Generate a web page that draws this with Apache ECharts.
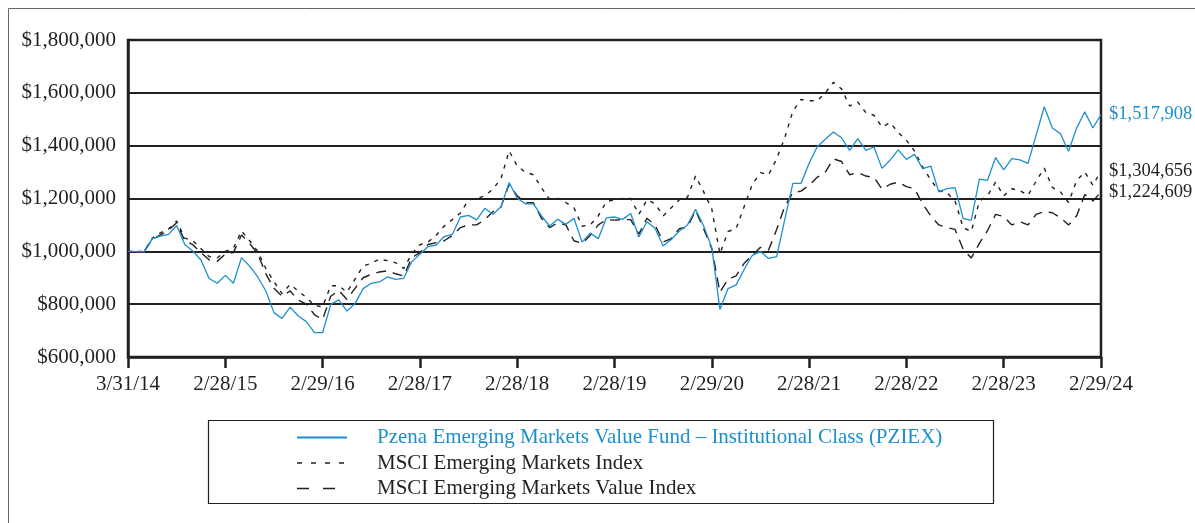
<!DOCTYPE html>
<html>
<head>
<meta charset="utf-8">
<script src="https://cdn.jsdelivr.net/npm/echarts@6/dist/echarts.min.js"></script>
<style>
  html, body { margin: 0; padding: 0; background: #fff; }
  #main { width: 1195px; height: 523px; }
</style>
</head>
<body>
<div id="main"></div>
<script>
// growth of $1,000,000, monthly points, ticks every 12 points
var tickLabels = ['3/31/14', '2/28/15', '2/29/16', '2/28/17', '2/28/18', '2/28/19', '2/29/20', '2/28/21', '2/28/22', '2/28/23', '2/29/24'];

var fundName = 'Pzena Emerging Markets Value Fund \u2013 Institutional Class (PZIEX)';
var emName = 'MSCI Emerging Markets Index';
var valName = 'MSCI Emerging Markets Value Index';

var fundValues = [
    1000000, 999000, 998000, 1048000, 1058000, 1064000, 1098000, 1026000, 1001000, 967000,
    897000, 879000, 909000, 879000, 976000, 944000, 903000, 850000, 768000, 746000,
    789000, 755000, 734000, 692000, 692000, 799000, 816000, 774000, 802000, 859000,
    879000, 884000, 903000, 894000, 898000, 961000, 989000, 1018000, 1024000, 1056000,
    1064000, 1130000, 1136000, 1119000, 1163000, 1140000, 1169000, 1260000, 1201000, 1180000,
    1180000, 1134000, 1096000, 1121000, 1102000, 1125000, 1035000, 1069000, 1048000, 1127000,
    1130000, 1121000, 1143000, 1054000, 1112000, 1087000, 1020000, 1045000, 1077000, 1100000,
    1159000, 1096000, 1014000, 780000, 859000, 873000, 932000, 985000, 999000, 973000,
    980000, 1120000, 1257000, 1257000, 1333000, 1396000, 1424000, 1452000, 1430000, 1382000,
    1427000, 1382000, 1395000, 1314000, 1346000, 1384000, 1348000, 1367000, 1313000, 1323000,
    1225000, 1237000, 1241000, 1125000, 1117000, 1273000, 1269000, 1355000, 1308000, 1351000,
    1346000, 1333000, 1440000, 1547000, 1467000, 1445000, 1379000, 1467000, 1528000, 1467000,
    1517908
];

var emValues = [
    1000000, 999000, 1000000, 1050000, 1070000, 1085000, 1115000, 1050000, 1040000, 1010000,
    980000, 975000, 1000000, 1012000, 1077000, 1040000, 1000000, 935000, 885000, 840000,
    875000, 850000, 825000, 795000, 790000, 870000, 870000, 845000, 895000, 944000,
    955000, 970000, 965000, 957000, 935000, 990000, 1025000, 1035000, 1060000, 1096000,
    1120000, 1145000, 1195000, 1200000, 1210000, 1235000, 1275000, 1380000, 1323000, 1300000,
    1290000, 1240000, 1197000, 1200000, 1185000, 1165000, 1095000, 1100000, 1134000, 1188000,
    1195000, 1200000, 1200000, 1140000, 1195000, 1180000, 1134000, 1165000, 1195000, 1205000,
    1285000, 1225000, 1160000, 990000, 1075000, 1086000, 1170000, 1254000, 1298000, 1290000,
    1350000, 1430000, 1531000, 1575000, 1570000, 1570000, 1600000, 1640000, 1615000, 1550000,
    1565000, 1525000, 1515000, 1470000, 1487000, 1450000, 1420000, 1380000, 1320000, 1270000,
    1230000, 1222000, 1190000, 1090000, 1075000, 1190000, 1210000, 1262000, 1210000, 1237000,
    1230000, 1212000, 1266000, 1315000, 1242000, 1225000, 1185000, 1268000, 1300000, 1250000,
    1304656
];

var valValues = [
    1000000, 999000, 1000000, 1045000, 1062000, 1080000, 1108000, 1040000, 1025000, 995000,
    968000, 962000, 990000, 995000, 1062000, 1030000, 990000, 915000, 860000, 830000,
    850000, 815000, 800000, 760000, 742000, 830000, 852000, 818000, 860000, 900000,
    913000, 922000, 926000, 915000, 907000, 976000, 995000, 1026000, 1033000, 1040000,
    1060000, 1090000, 1100000, 1100000, 1120000, 1150000, 1168000, 1254000, 1210000, 1184000,
    1184000, 1125000, 1090000, 1108000, 1100000, 1040000, 1030000, 1060000, 1100000, 1120000,
    1118000, 1120000, 1120000, 1065000, 1125000, 1100000, 1035000, 1048000, 1086000, 1092000,
    1155000, 1085000, 1010000, 845000, 895000, 907000, 955000, 985000, 1015000, 1005000,
    1083000, 1170000, 1222000, 1228000, 1250000, 1280000, 1300000, 1350000, 1340000, 1290000,
    1298000, 1285000, 1280000, 1235000, 1254000, 1262000, 1245000, 1237000, 1180000, 1134000,
    1100000, 1090000, 1083000, 1008000, 975000, 1030000, 1078000, 1140000, 1132000, 1100000,
    1112000, 1100000, 1140000, 1150000, 1146000, 1127000, 1100000, 1135000, 1215000, 1190000,
    1224609
];

var INK = '#231f20';
var BLUE = '#1e8fcd';
var FONT = '"Liberation Serif", "Times New Roman", serif';

function toPoints(arr) {
    var out = [];
    for (var i = 0; i < arr.length; i++) out.push([i, arr[i]]);
    return out;
}
function money(v) {
    return '$' + Number(v).toLocaleString('en-US');
}
function makeSeries(name, values, color, dash) {
    return {
        name: name,
        type: 'line',
        data: toPoints(values),
        symbol: 'none',
        lineStyle: { color: color, width: dash === 'solid' ? 1.3 : 1.4, type: dash },
        itemStyle: { color: color },
        endLabel: {
            show: true,
            distance: 8,
            color: color,
            fontFamily: FONT,
            fontSize: 18.5,
            formatter: function (p) { return money(p.value[1]); }
        },
        z: dash === 'solid' ? 3 : 2
    };
}

var chart = echarts.init(document.getElementById('main'));
var option = {
    animation: false,
    backgroundColor: '#fff',
    grid: { left: 128, right: 94, top: 40, bottom: 166, show: true, borderColor: INK, borderWidth: 2.5 },
    xAxis: {
        type: 'value',
        min: 0,
        max: 120,
        interval: 12,
        axisLine: { show: true, lineStyle: { color: INK, width: 2.5 } },
        axisTick: { show: true, length: 11, lineStyle: { color: INK, width: 2.5 } },
        splitLine: { show: false },
        axisLabel: {
            margin: 17,
            color: INK,
            fontFamily: FONT,
            fontSize: 21,
            formatter: function (v) { return tickLabels[Math.round(v / 12)] || ''; }
        }
    },
    yAxis: {
        type: 'value',
        min: 600000,
        max: 1800000,
        interval: 200000,
        axisLine: { show: true, lineStyle: { color: INK, width: 2.5 } },
        axisTick: { show: false },
        splitLine: { show: true, lineStyle: { color: INK, width: 2 } },
        axisLabel: {
            margin: 12,
            color: INK,
            fontFamily: FONT,
            fontSize: 21,
            formatter: function (v) { return money(v); }
        }
    },
    legend: {
        orient: 'vertical',
        left: 296,
        top: 427,
        padding: 0,
        itemWidth: 50,
        itemHeight: 10,
        itemGap: 4.5,
        itemStyle: { color: 'transparent', borderWidth: 0 },
        textStyle: { color: INK, fontFamily: FONT, fontSize: 21, padding: [0, 0, 0, 25] },
        data: [
            { name: fundName, textStyle: { color: BLUE } },
            { name: emName, lineStyle: { type: [5, 9], width: 1.4 } },
            { name: valName, lineStyle: { type: [12, 14], width: 1.4 } }
        ]
    },
    graphic: [
        { type: 'rect', shape: { x: 8.5, y: 8.5, width: 1200, height: 600 }, style: { fill: 'none', stroke: '#666', lineWidth: 1 }, silent: true },
        { type: 'rect', shape: { x: 208.5, y: 420.5, width: 785, height: 83 }, style: { fill: 'none', stroke: INK, lineWidth: 1.2 }, silent: true }
    ],
    series: [
        makeSeries(fundName, fundValues, BLUE, 'solid'),
        makeSeries(emName, emValues, INK, [4, 6]),
        makeSeries(valName, valValues, INK, [10, 7])
    ]
};
chart.setOption(option);
</script>
</body>
</html>
